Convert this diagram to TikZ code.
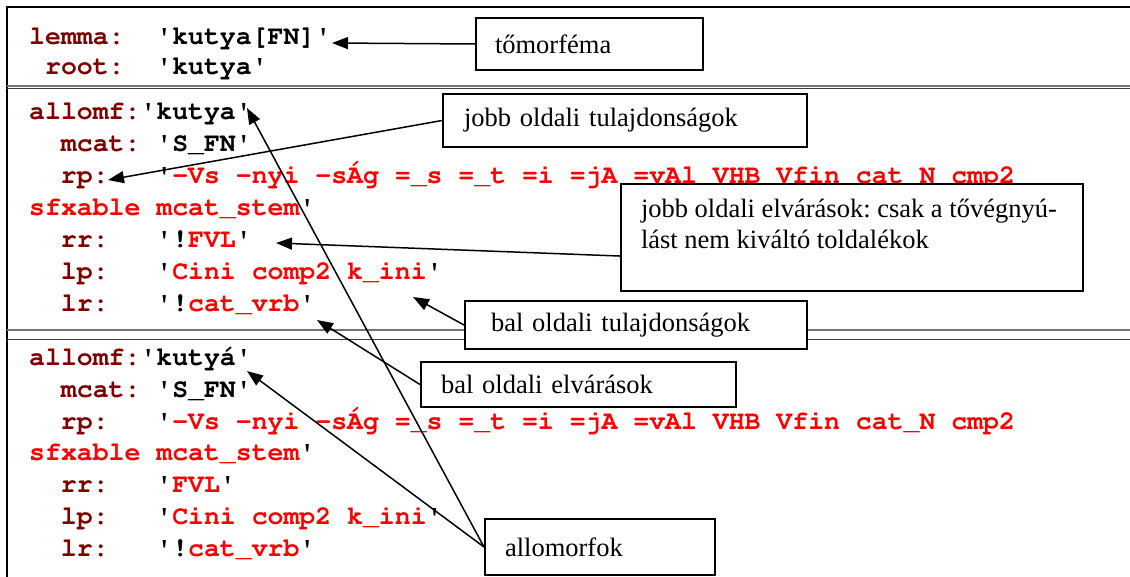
\documentclass[tikz,border=0pt]{standalone}
\usepackage{fontspec}
\usepackage[T1,TU]{fontenc}
\setmainfont{Liberation Serif}
\usetikzlibrary{arrows.meta,calc}
\definecolor{keycol}{HTML}{800000}
\definecolor{valcol}{HTML}{FF0000}
\newcommand\kw[1]{\textcolor{keycol}{#1}}
\newcommand\rv[1]{\textcolor{valcol}{#1}}
\newcommand\q{\textquotesingle}
\newcommand\codefont{\fontencoding{T1}\fontfamily{pcr}\fontseries{b}\fontshape{n}\fontsize{26.5}{30}\selectfont}
\frenchspacing
\begin{document}
\begin{tikzpicture}[x=1pt,y=-1pt,
  code/.style={anchor=base west, inner sep=0pt, font=\codefont},
  note/.style={draw=black, line width=2pt, fill=white, anchor=north west,
    inner ysep=0pt, align=left,
    font=\fontsize{26.5}{30.5}\selectfont},
  pointer/.style={line width=1.5pt, -{Triangle[length=16pt,width=12pt]}},
  sepgrey/.style={line width=2pt, black!55},
  sepdark/.style={line width=1pt, black!75},
]
\useasboundingbox (0,0) rectangle (1130,577);

% frame and row separators
\draw[line width=2.5pt] (7,577) -- (7,7) -- (1130,7);
\draw[sepgrey] (7,86) -- (1130,86);
\draw[sepdark] (7,89) -- (1130,89);
\draw[sepgrey] (7,330) -- (1130,330);
\draw[sepdark] (7,340) -- (1130,340);

% lemma record
\node[code] (lemma) at (29,45) {\kw{lemma:}~~\q kutya[FN]\q};
\node[code] (root)  at (29,75) {~\kw{root:}~~\q kutya\q};

% first allomorph
\node[code] (a1)   at (29,120) {\kw{allomf:}\q kutya\q};
\node[code] (a1mc) at (29,152) {~~\kw{mcat:}~\q S\_FN\q};
\node[code] (a1rp) at (29,184) {~~\kw{rp:}~~~\q\rv{-Vs -nyi -sÁg =\_s =\_t =i =jA =vAl VHB Vfin cat\_N cmp2}};
\node[code] (a1sf) at (29,216) {\rv{sfxable mcat\_stem}\q};
\node[code] (a1rr) at (29,248) {~~\kw{rr:}~~~\q!\rv{FVL}\q};
\node[code] (a1lp) at (29,280) {~~\kw{lp:}~~~\q\rv{Cini comp2 k\_ini}\q};
\node[code] (a1lr) at (29,312) {~~\kw{lr:}~~~\q!\rv{cat\_vrb}\q};

% second allomorph
\node[code] (a2)   at (29,365) {\kw{allomf:}\q kutyá\q};
\node[code] (a2mc) at (29,397) {~~\kw{mcat:}~\q S\_FN\q};
\node[code] (a2rp) at (29,429) {~~\kw{rp:}~~~\q\rv{-Vs -nyi -sÁg =\_s =\_t =i =jA =vAl VHB Vfin cat\_N cmp2}};
\node[code] (a2sf) at (29,460) {\rv{sfxable mcat\_stem}\q};
\node[code] (a2rr) at (29,492) {~~\kw{rr:}~~~\q\rv{FVL}\q};
\node[code] (a2lp) at (29,524) {~~\kw{lp:}~~~\q\rv{Cini comp2 k\_ini}\q};
\node[code] (a2lr) at (29,556) {~~\kw{lr:}~~~\q!\rv{cat\_vrb}\q};

% annotation boxes
\node[note, inner xsep=19pt, text width=189pt, minimum height=52pt] (A) at (475,17) {tőmorféma};
\node[note, inner xsep=21pt, text width=322pt, minimum height=53pt] (B) at (442,93) {jobb oldali tulajdonságok};
\node[note, inner xsep=0pt] (C) at (620,183)
  {\parbox[c][107pt][t]{462pt}{\raggedright\rule{0pt}{34pt}\hspace*{20pt}jobb oldali elvárások: csak a tővégnyú-\\\hspace*{20pt}lást nem kiváltó toldalékok}};
\node[note, inner xsep=26pt, text width=290pt, minimum height=48pt] (D) at (464,300) {bal oldali tulajdonságok};
\node[note, inner xsep=20pt, text width=275pt, minimum height=45pt] (E) at (420,361) {bal oldali elvárások};
\node[note, inner xsep=20pt, text width=190pt, minimum height=56pt] (F) at (484,518) {allomorfok};

% arrow tips
\coordinate (tA) at (332,43);
\coordinate (tB) at (108,180);
\coordinate (tC) at (276,243);
\coordinate (tD) at (413,297);
\coordinate (tE) at (317,320);
\coordinate (tF1) at (247,108);
\coordinate (tF2) at (247,371);

\draw[pointer] (A.west) -- (tA);
\draw[pointer] (B.west) -- (tB);
\draw[pointer] ($(C.north west)!0.67!(C.south west)$) -- (tC);
\draw[pointer] (D.west) -- (tD);
\draw[pointer] (E.west) -- (tE);
\draw[pointer] (F.west) -- (tF1);
\draw[pointer] (F.west) -- (tF2);
\end{tikzpicture}
\end{document}
